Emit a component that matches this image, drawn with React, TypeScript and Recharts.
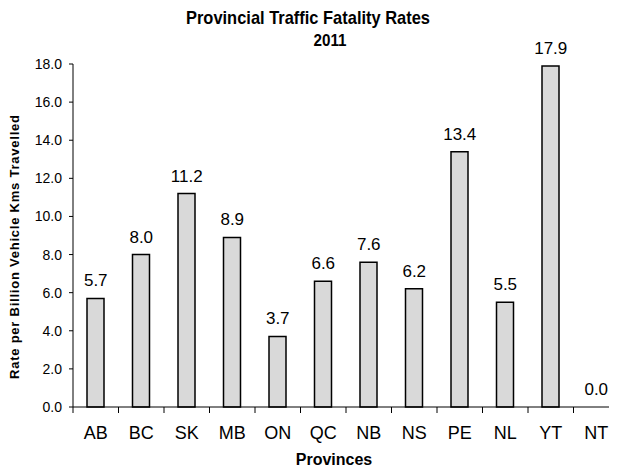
import { ComposedChart, Bar, Line, XAxis, YAxis, LabelList } from 'recharts'

const provinces = ['AB', 'BC', 'SK', 'MB', 'ON', 'QC', 'NB', 'NS', 'PE', 'NL', 'YT', 'NT']
const rates = [5.7, 8.0, 11.2, 8.9, 3.7, 6.6, 7.6, 6.2, 13.4, 5.5, 17.9, 0.0]
const yTicks = [0, 2, 4, 6, 8, 10, 12, 14, 16, 18]

const data = provinces.map((p, i) => ({ name: p, rate: rates[i] }))

const font = "'Liberation Sans', Arial, sans-serif"

// tick line sits on the left boundary of each category, label in the middle
const XTick = ({ x, y, payload }: any) => {
  const off = payload?.offset ?? 22.75
  return (
    <g>
      <line x1={x - off} x2={x - off} y1={y} y2={y + 6} stroke="#000" strokeWidth={1} />
      <text x={x} y={y + 32} textAnchor="middle" fontSize={18} fontFamily={font} fill="#000">{payload.value}</text>
    </g>
  )
}

export default function App() {
  return (
    <div style={{ position: 'relative', marginLeft: -8, marginTop: -8, width: 617, height: 470, overflow: 'hidden', background: '#fff' }}>
      <svg width={617} height={470} style={{ position: 'absolute', left: 0, top: 0, pointerEvents: 'none' }}>
        <text x={308} y={24} textAnchor="middle" fontSize={19} fontWeight="bold" fontFamily={font} fill="#000"
          textLength={244} lengthAdjust="spacingAndGlyphs">Provincial Traffic Fatality Rates</text>
        <text x={330} y={46} textAnchor="middle" fontSize={16} fontWeight="bold" fontFamily={font} fill="#000"
          textLength={33} lengthAdjust="spacingAndGlyphs">2011</text>
        <text x={19} y={247} transform="rotate(-90 19 247)" textAnchor="middle" fontSize={13} fontWeight="bold" fontFamily={font} fill="#000"
          textLength={264} lengthAdjust="spacing">Rate per Billion Vehicle Kms Travelled</text>
      </svg>
      <ComposedChart width={620} height={470} data={data} margin={{ top: 64, right: 1, left: 0, bottom: 0 }}>
        <XAxis dataKey="name" height={63} tickLine={false} tickSize={0} tickMargin={0} axisLine={{ stroke: '#000' }} tick={<XTick />} interval={0}
          label={{ value: 'Provinces', position: 'insideBottom', offset: 5, dx: -12, fontSize: 16, fontWeight: 'bold', fontFamily: font, fill: '#000' }} />
        <YAxis width={73} domain={[0, 18]} ticks={yTicks} interval={0} tickFormatter={(v: number) => v.toFixed(1)}
          axisLine={{ stroke: '#000' }} tickLine={{ stroke: '#000' }} tickSize={4} tickMargin={7}
          tick={{ fontSize: 14, fontFamily: font, fill: '#000' }} />
        <Bar dataKey="rate" fill="#d9d9d9" stroke="#000" strokeWidth={1.5} barSize={17} isAnimationActive={false} />
        {/* invisible line carries the value labels so the zero bar gets one too */}
        <Line dataKey="rate" stroke="none" dot={false} activeDot={false} isAnimationActive={false}>
          <LabelList dataKey="rate" position="top" offset={12} formatter={(v: any) => Number(v).toFixed(1)}
            style={{ fontSize: 17, fontFamily: font, fill: '#000' }} />
        </Line>
      </ComposedChart>
    </div>
  )
}
